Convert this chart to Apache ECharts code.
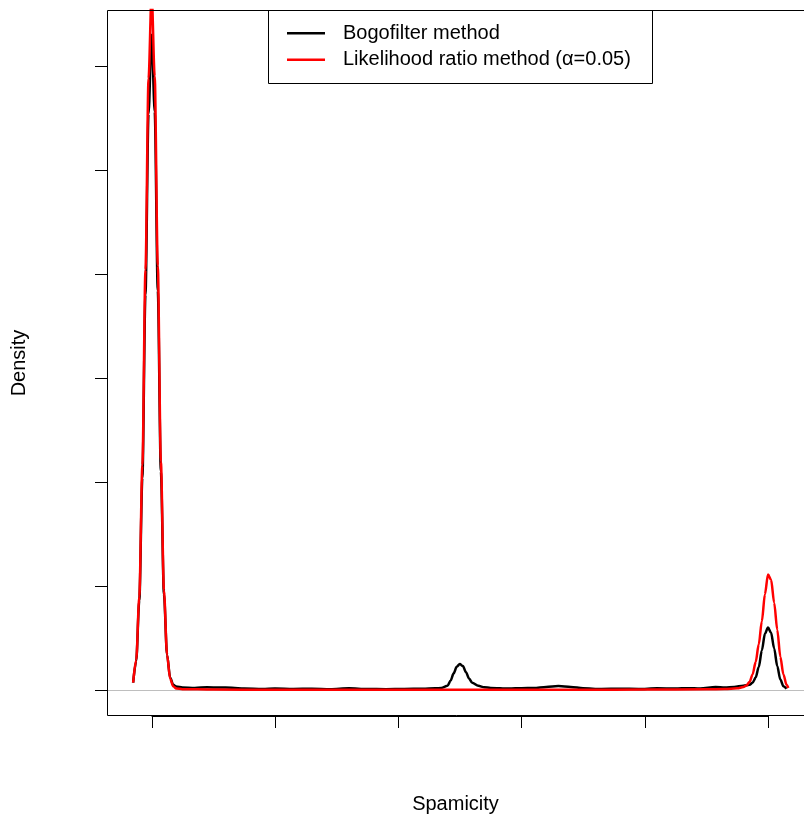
<!DOCTYPE html>
<html>
<head>
<meta charset="utf-8">
<script src="https://cdn.jsdelivr.net/npm/echarts@6/dist/echarts.min.js"></script>
<style>
  html, body { margin: 0; padding: 0; background: #fff; }
  #chart { width: 804px; height: 816px; }
</style>
</head>
<body>
<div id="chart"></div>
<script>
// Bogofilter method density
const bogoX = [-0.03, -0.025, -0.02, -0.015, -0.01, -0.005, 0, 0.005, 0.01, 0.015, 0.02, 0.025, 0.03, 0.035, 0.04,
  0.05, 0.07, 0.09, 0.11, 0.13, 0.15, 0.18, 0.2, 0.23, 0.26, 0.29, 0.32, 0.35, 0.38, 0.41, 0.44, 0.46,
  0.47, 0.48, 0.485, 0.49, 0.495, 0.5, 0.505, 0.51, 0.515, 0.52, 0.53, 0.54, 0.55, 0.58, 0.6, 0.62, 0.64,
  0.66, 0.68, 0.7, 0.73, 0.76, 0.79, 0.82, 0.85, 0.87, 0.89, 0.915, 0.93, 0.945, 0.96, 0.97, 0.975, 0.98,
  0.985, 0.99, 0.995, 1.0, 1.005, 1.01, 1.015, 1.02, 1.025, 1.03];
const bogoY = [0.36, 1.4, 4.3, 10.2, 19.0, 27.7, 31.5, 27.8, 19.2, 10.5, 4.6, 1.7, 0.6, 0.25, 0.17,
  0.12, 0.1, 0.13, 0.12, 0.11, 0.07, 0.05, 0.07, 0.05, 0.06, 0.04, 0.08, 0.05, 0.04, 0.05, 0.06, 0.08,
  0.1, 0.2, 0.45, 0.8, 1.12, 1.25, 1.15, 0.85, 0.55, 0.35, 0.2, 0.13, 0.1, 0.07, 0.09, 0.1, 0.15,
  0.19, 0.15, 0.08, 0.05, 0.06, 0.05, 0.08, 0.07, 0.09, 0.07, 0.14, 0.12, 0.15, 0.2, 0.25, 0.35, 0.6,
  1.1, 1.9, 2.7, 3.0, 2.75, 2.0, 1.15, 0.5, 0.18, 0.06];

// Likelihood ratio method density
const lrX = [-0.03, -0.025, -0.02, -0.015, -0.01, -0.005, 0, 0.005, 0.01, 0.015, 0.02, 0.025, 0.03, 0.035, 0.04,
  0.05, 0.1, 0.2, 0.3, 0.4, 0.5, 0.6, 0.7, 0.8, 0.9, 0.93, 0.95, 0.96, 0.965, 0.97, 0.975, 0.98, 0.985,
  0.99, 0.995, 1.0, 1.005, 1.01, 1.015, 1.02, 1.025, 1.03, 1.033];
const lrY = [0.35, 1.45, 4.5, 10.8, 20.2, 29.4, 33.5, 29.5, 20.4, 11.0, 4.8, 1.7, 0.55, 0.18, 0.07,
  0.04, 0.02, 0.01, 0.01, 0.01, 0.01, 0.01, 0.01, 0.02, 0.03, 0.05, 0.08, 0.14, 0.22, 0.38, 0.75, 1.35, 2.2,
  3.3, 4.6, 5.55, 5.3, 4.2, 2.9, 1.6, 0.75, 0.25, 0.1];

// tick axes: 0..1 by 0.2 and 0..30 by 5
const xTickMin = 0, xTickMax = 1, xTickStep = 0.2;
const yTickMin = 0, yTickMax = 30, yTickStep = 5;
const seriesNames = ['Bogofilter method', 'Likelihood ratio method (\u03b1=0.05)'];

const font = 'Liberation Sans, Arial, Helvetica, sans-serif';
const chart = echarts.init(document.getElementById('chart'));

function pairs(xs, ys) {
  return xs.map((x, i) => [x, ys[i]]);
}

const labelStyle = { fontSize: 20, color: '#000', fontFamily: font };
const blackLine = { color: '#000', width: 1 };
const noGrid = { show: false, outerBoundsMode: 'none', containLabel: false };
// invisible partner axis -1..1: its zero is in the middle of the grid,
// the grid is placed so that this middle lies on the plot box edge
const partnerAxis = (i) => ({
  gridIndex: i, type: 'value', min: -1, max: 1,
  axisLine: { show: false }, axisTick: { show: false }, axisLabel: { show: false }, splitLine: { show: false }
});

chart.setOption({
  animation: false,
  backgroundColor: '#fff',
  textStyle: { fontFamily: font },
  grid: [
    // plot region (runs past the right edge of the picture, like the original)
    Object.assign({ left: 107, top: 10, right: 0, height: 706 }, noGrid),
    // x tick range 0..1, middle of grid at y = 716 (plot box bottom)
    Object.assign({ left: 152, width: 616, top: 616, height: 200 }, noGrid),
    // y tick range 0..30, middle of grid at x = 107 (plot box left)
    Object.assign({ left: 7, width: 200, top: 66, height: 624 }, noGrid)
  ],
  xAxis: [
    {
      gridIndex: 0, type: 'value', min: -0.0724, max: 1.0584,
      name: 'Spamicity', nameLocation: 'middle', nameGap: 78, nameTextStyle: labelStyle,
      axisLine: { show: false, onZero: false }, axisTick: { show: false },
      axisLabel: { show: false }, splitLine: { show: false }
    },
    {
      gridIndex: 1, type: 'value', min: xTickMin, max: xTickMax, interval: xTickStep, position: 'bottom',
      axisLine: { show: true, onZero: true, lineStyle: blackLine },
      axisTick: { show: true, length: 12, lineStyle: blackLine },
      axisLabel: Object.assign({ margin: 30, formatter: v => v.toFixed(1) }, labelStyle),
      splitLine: { show: false }
    },
    partnerAxis(2)
  ],
  yAxis: [
    {
      gridIndex: 0, type: 'value', min: -1.25, max: 32.69,
      name: 'Density', nameLocation: 'middle', nameGap: 78, nameRotate: 90, nameTextStyle: labelStyle,
      axisLine: { show: false, onZero: false }, axisTick: { show: false },
      axisLabel: { show: false }, splitLine: { show: false }
    },
    partnerAxis(1),
    {
      gridIndex: 2, type: 'value', min: yTickMin, max: yTickMax, interval: yTickStep, position: 'left',
      axisLine: { show: true, onZero: true, lineStyle: blackLine },
      axisTick: { show: true, length: 12, lineStyle: blackLine },
      axisLabel: Object.assign({ rotate: 90, margin: 27 }, labelStyle),
      splitLine: { show: false }
    }
  ],
  legend: {
    orient: 'vertical', left: 287, top: 20, padding: 0, itemGap: 0,
    itemWidth: 38, itemHeight: 2.5, icon: 'rect',
    data: seriesNames,
    textStyle: { fontSize: 20, lineHeight: 26.5, color: '#000', fontFamily: font, padding: [0, 0, 0, 13] }
  },
  graphic: [
    {
      type: 'rect', z: 100, silent: true,
      shape: { x: 107.5, y: 10.5, width: 760, height: 705 },
      style: { fill: null, stroke: '#000', lineWidth: 1 }
    },
    {
      type: 'rect', z: 100, silent: true,
      shape: { x: 268.5, y: 10.5, width: 384, height: 73 },
      style: { fill: null, stroke: '#000', lineWidth: 1 }
    }
  ],
  series: [
    {
      name: seriesNames[0], type: 'line', xAxisIndex: 0, yAxisIndex: 0, data: pairs(bogoX, bogoY),
      showSymbol: false, smooth: 0.3, smoothMonotone: 'x', color: '#000',
      lineStyle: { width: 2.5, color: '#000' },
      markLine: {
        silent: true, symbol: 'none', label: { show: false },
        lineStyle: { color: '#bebebe', width: 1, type: 'solid' },
        data: [{ yAxis: 0 }], z: 1
      }
    },
    {
      name: seriesNames[1], type: 'line', xAxisIndex: 0, yAxisIndex: 0, data: pairs(lrX, lrY),
      showSymbol: false, smooth: 0.3, smoothMonotone: 'x', color: '#ff0000',
      lineStyle: { width: 2.5, color: '#ff0000' }
    }
  ]
});
</script>
</body>
</html>
